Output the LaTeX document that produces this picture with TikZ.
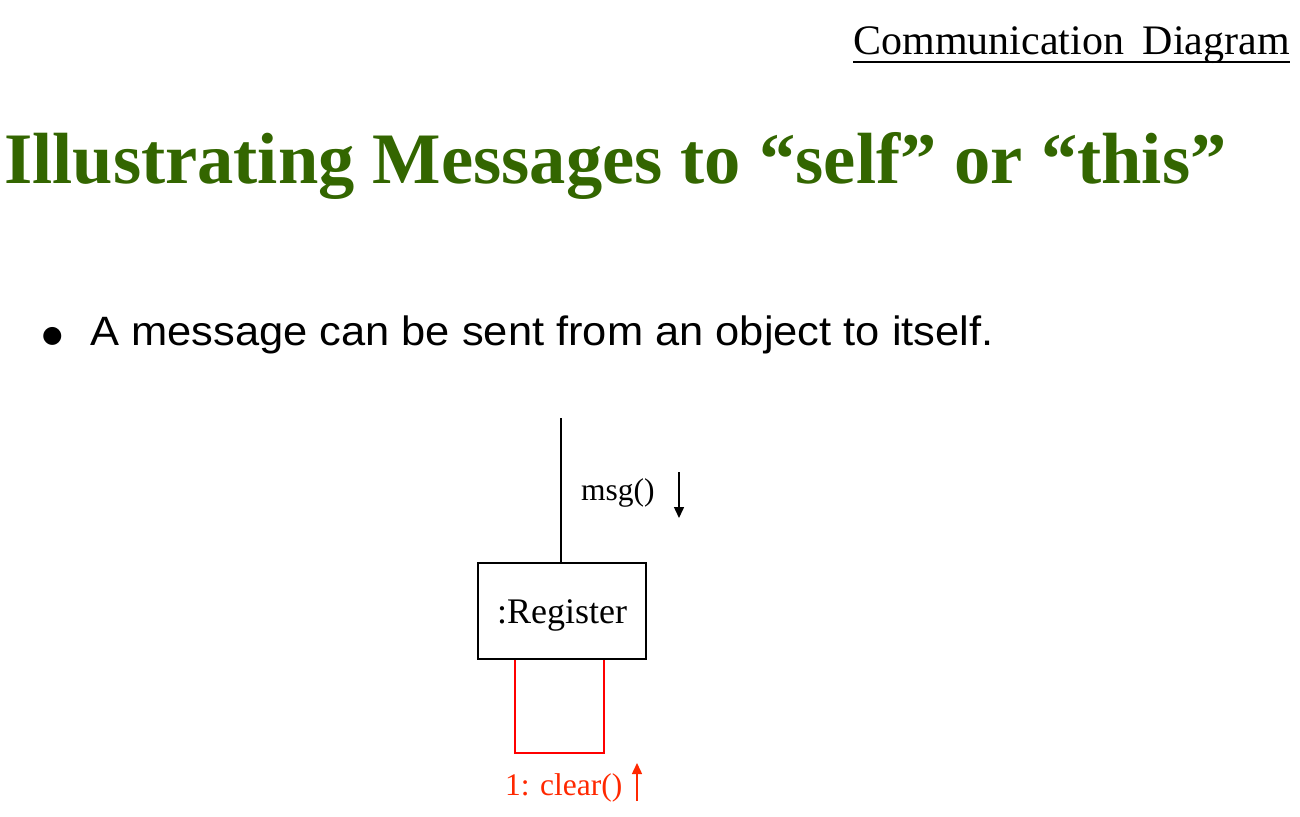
\documentclass[tikz,border=0pt]{standalone}
\usepackage{fontspec}
\setmainfont{Liberation Serif}
\setsansfont{Liberation Sans}
\newfontfamily\symfont{DejaVu Sans}
\usetikzlibrary{arrows.meta}
\definecolor{titlegreen}{RGB}{51,102,0}
\definecolor{msgred}{RGB}{255,40,0}
\tikzset{
  objbox/.style={draw=black, line width=1.5pt, minimum width=168pt, minimum height=96pt, inner sep=0pt, text height=34pt, text depth=10pt, font=\fontsize{36}{40}\selectfont},
  link/.style={line width=1.8pt},
  selflink/.style={draw=red, line width=1.8pt},
  msgarrow/.style={line width=1.5pt, -{Triangle[length=11pt,width=10pt]}},
}
\begin{document}
\begin{tikzpicture}[x=1pt,y=-1pt]
\useasboundingbox (0,0) rectangle (1300,816);
% header
\node[anchor=base east, inner sep=0pt, font=\fontsize{42}{48}\selectfont] (hdr) at (1290,55) {Communication\hspace{0.45em}Diagram};
\draw[line width=2pt] (hdr.base west) ++(0,7) coordinate (ul1) -- (hdr.base east |- ul1);
% title
\node[anchor=base west, inner sep=0pt, text=titlegreen, font=\fontsize{72.5}{80}\selectfont\bfseries] (title) at (4,183) {Illustrating Messages to “self” or “this”};
% bullet
\node[anchor=base west, inner sep=0pt, font=\fontsize{23.5}{28}\selectfont\symfont] (bul) at (42,342) {●};
\node[anchor=base west, inner sep=0pt, font=\fontsize{41}{48}\selectfont\sffamily, xscale=1.06] (btxt) at (90,345) {A message can be sent from an object to itself.};
% diagram
\node[objbox] (reg) at (562,611) {:Register};
\coordinate (top) at (561,418);
\draw[link] (top) -- (reg.north -| top);
\node[anchor=base west, inner sep=0pt, font=\fontsize{31.5}{36}\selectfont] (msg) at (581,500) {msg()};
\coordinate (ma1) at (679,472);
\coordinate (ma2) at (679,518);
\draw[msgarrow] (ma1) -- (ma2);
% self link
\coordinate (sl) at (515,659);
\coordinate (sr) at (604,659);
\draw[selflink] (reg.south -| sl) -- (515,753) -- (604,753) -- (reg.south -| sr);
\node[anchor=base west, inner sep=0pt, text=msgred, font=\fontsize{31.5}{36}\selectfont] (clr) at (505,795) {1: clear()};
\coordinate (ca1) at (637,801);
\coordinate (ca2) at (637,763);
\draw[msgarrow, draw=msgred, fill=msgred] (ca1) -- (ca2);
\end{tikzpicture}
\end{document}
